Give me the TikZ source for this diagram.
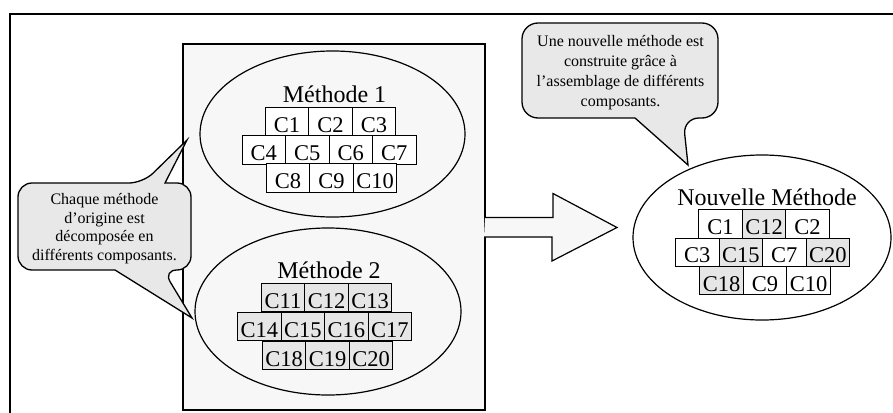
\documentclass[tikz,border=0pt]{standalone}
\usepackage{fontspec}
\setmainfont{Liberation Serif}
\usetikzlibrary{shapes,positioning}

\definecolor{boxgray}{RGB}{247,247,247}
\definecolor{notegray}{RGB}{232,232,232}
\definecolor{compgray}{RGB}{230,230,230}

\tikzset{
  comp/.style={draw, fill=white, line width=0.8pt, minimum width=43.5pt,
    minimum height=28.5pt, inner sep=0pt, outer sep=0pt,
    text height=21pt, text depth=0pt, font=\fontsize{22.5}{27}\selectfont},
  compold/.style={comp, fill=compgray},
  methname/.style={anchor=base, inner sep=0pt, font=\fontsize{24}{28}\selectfont},
  meth/.style={draw, ellipse, inner sep=0pt, line width=1.2pt},
  note/.style={draw, fill=notegray, line width=1.3pt},
  notetext/.style={align=center, inner sep=0pt, font=\fontsize{16}{18.5}\selectfont}
}

\begin{document}
\begin{tikzpicture}[x=1pt, y=-1pt, line width=1.2pt]
  \useasboundingbox (0,0) rectangle (893,412);
  \draw (10,14) rectangle (898,417);

  % original methods
  \node[draw, fill=boxgray, minimum width=302pt, minimum height=366pt, inner sep=0pt] (orig) at (334,227) {};
  \node[meth, fill=boxgray, minimum width=265pt, minimum height=166pt] (meth1) at (332.5,134) {};
  \node[meth, fill=boxgray, minimum width=266pt, minimum height=167pt] (meth2) at (328,311.5) {};
  \node[methname] (name1) at (334.5,102) {Méthode 1};
  \node[methname] (name2) at (329,278) {Méthode 2};

  \foreach \t [count=\i] in {1,2,3}
    \node[comp] (c\t) at (330.5+43.5*\i-87,122) {C\t};
  \foreach \t [count=\i] in {4,...,7}
    \node[comp] (c\t) at (329+43.5*\i-108.75,150) {C\t};
  \foreach \t [count=\i] in {8,9,10}
    \node[comp] (c\t) at (331.5+43.5*\i-87,178) {C\t};

  \foreach \t [count=\i] in {11,12,13}
    \node[compold] (c\t) at (326.5+43.5*\i-87,297.5) {C\t};
  \foreach \t [count=\i] in {14,...,17}
    \node[compold] (c\t) at (324.5+43.5*\i-108.75,326.5) {C\t};
  \foreach \t [count=\i] in {18,19,20}
    \node[compold] (c\t) at (327.5+43.5*\i-87,355.5) {C\t};

  % big arrow
  \coordinate (tip) at (617,227.5);
  \draw[fill=boxgray] (orig.east) ++(-0.6,-9.5) -- ++(68,0) -- ++(0,-24) -- (tip)
    -- ++(-65,33.5) -- ++(0,-24) -- ++(-68,0);

  % new method
  \node[meth, fill=white, minimum width=258pt, minimum height=165pt] (newmeth) at (762,237.5) {};
  \node[methname] (namenew) at (767,205) {Nouvelle Méthode};
  \foreach \t/\s [count=\i] in {1/comp,12/compold,2/comp}
    \node[\s] (nc\t) at (764+43.5*\i-87,224) {C\t};
  \foreach \t/\s [count=\i] in {3/comp,15/compold,7/comp,20/compold}
    \node[\s] (nc\t) at (762.5+43.5*\i-108.75,252.3) {C\t};
  \foreach \t/\s [count=\i] in {18/compold,9/comp,10/comp}
    \node[\s] (nc\t) at (765+43.5*\i-87,280.6) {C\t};

  % callouts
  \draw[note] (18,226) [rounded corners=14pt] -- (18,183) -- (143,183) [sharp corners] -- (187,140)
    -- (165,183) [rounded corners=14pt] -- (191,183) -- (191,270) -- (163,270) [sharp corners]
    -- (192,318) -- (115,270) [rounded corners=14pt] -- (18,270) -- cycle;
  \node[notetext] (noteorig) at (104.5,228.8)
    {Chaque méthode\\d’origine est\\décomposée en\\différents composants.};

  \draw[note] (522,70) [rounded corners=16pt] -- (522,23) -- (718,23) -- (718,118) -- (683,118)
    [sharp corners] -- (688,165) -- (635,118) [rounded corners=16pt] -- (522,118) -- cycle;
  \node[notetext, font=\fontsize{16}{20}\selectfont] (notenew) at (620.5,73)
    {Une nouvelle méthode est\\construite grâce à\\l’assemblage de différents\\composants.};
\end{tikzpicture}
\end{document}
